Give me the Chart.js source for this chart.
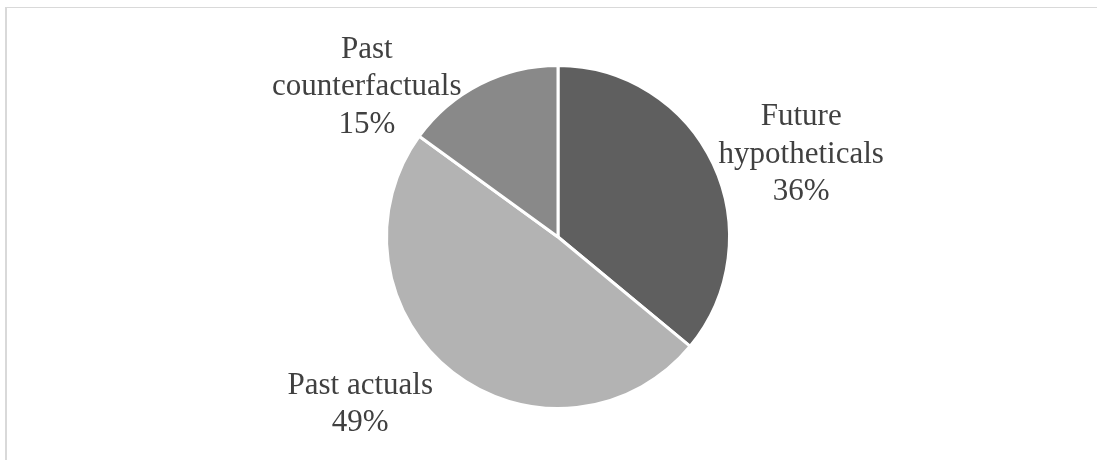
<!DOCTYPE html>
<html>
<head>
    <title>Pie chart</title>
    <script src="https://cdn.jsdelivr.net/npm/chart.js"></script>
    <style>
        html, body { margin: 0; padding: 0; background: #fff; overflow: hidden; }
        #wrap { position: relative; width: 1099px; height: 460px; }
        #frame {
            position: absolute; left: 5px; top: 7px; width: 1092px; height: 600px;
            border-top: 1px solid #d9d9d9; border-left: 2px solid #d9d9d9;
            box-sizing: border-box;
        }
        #chart { position: absolute; left: 0; top: 0; }
        #fontwarm { position: absolute; left: -999px; font: 31px "Liberation Serif"; }
    </style>
</head>
<body>
    <div id="wrap">
        <div id="frame"></div>
        <canvas id="chart" width="1099" height="460"></canvas>
    </div>
    <span id="fontwarm">Past 15%</span>

    <script>
        // data
        const categories = ['Future hypotheticals', 'Past actuals', 'Past counterfactuals'];
        const shares = [36, 49, 15];
        const sliceColors = ['#5f5f5f', '#b3b3b3', '#898989'];

        // how each label is split onto lines, and nudged from the slice's outer edge
        const labelLines = [['Future', 'hypotheticals'], ['Past actuals'], ['Past', 'counterfactuals']];
        const labelNudge = [[4, -38], [-19, 20], [-18, -25]];

        const labelFont = '31px "Liberation Serif"';
        const lineHeight = 37.5;

        // draws Excel style labels outside the pie
        const outsideLabels = {
            id: 'outsideLabels',
            afterDatasetsDraw(chart) {
                const ctx = chart.ctx;
                const arcs = chart.getDatasetMeta(0).data;
                ctx.save();
                ctx.font = labelFont + ', "Times New Roman", serif';
                ctx.fillStyle = '#404040';
                ctx.textAlign = 'center';
                ctx.textBaseline = 'alphabetic';
                arcs.forEach((arc, i) => {
                    const p = arc.getProps(['x', 'y', 'startAngle', 'endAngle', 'outerRadius'], true);
                    const mid = (p.startAngle + p.endAngle) / 2;
                    const r = p.outerRadius + 1.5;
                    const ax = p.x + Math.cos(mid) * r;
                    const ay = p.y + Math.sin(mid) * r;
                    const lines = labelLines[i].concat([shares[i] + '%']);
                    const w = Math.max(...lines.map(l => ctx.measureText(l).width));
                    const edgeX = ax + labelNudge[i][0];
                    const cx = Math.cos(mid) >= 0 ? edgeX + w / 2 : edgeX - w / 2;
                    const firstBase = ay + labelNudge[i][1];
                    lines.forEach((l, k) => ctx.fillText(l, cx, firstBase + k * lineHeight));
                });
                ctx.restore();
            }
        };

        function drawChart() {
            new Chart(document.getElementById('chart'), {
                type: 'pie',
                data: {
                    labels: categories,
                    datasets: [{
                        data: shares,
                        backgroundColor: sliceColors,
                        borderColor: '#ffffff',
                        borderWidth: 3
                    }]
                },
                options: {
                    responsive: false,
                    animation: false,
                    layout: { padding: { top: 64, bottom: 50, left: 17, right: 0 } },
                    plugins: {
                        legend: { display: false },
                        tooltip: { enabled: false }
                    }
                },
                plugins: [outsideLabels]
            });
        }

        document.fonts.load(labelFont).then(drawChart, drawChart);
    </script>
</body>
</html>
